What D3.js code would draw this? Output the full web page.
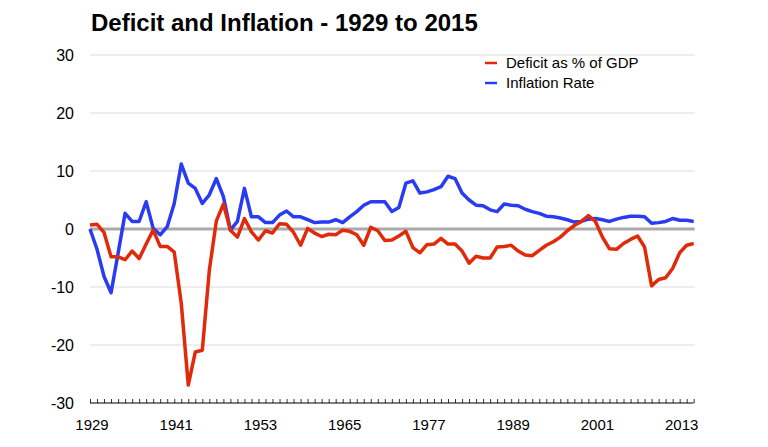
<!DOCTYPE html>
<html>
<head>
<meta charset="utf-8">
<script src="https://cdn.jsdelivr.net/npm/d3@7"></script>
<style>
  html, body { margin: 0; padding: 0; background: #fff; }
  svg { display: block; font-family: "Liberation Sans", Arial, Helvetica, sans-serif; }
</style>
</head>
<body>
<svg id="chart" width="768" height="447"></svg>
<script>
// ---- data ----
const years = d3.range(1929, 2016);
const deficit = [
  0.7, 0.8, -0.6, -4.8, -4.8, -5.3, -3.8, -5.1, -2.6, -0.2,
  -3.0, -3.0, -4.0, -12.8, -26.9, -21.2, -20.9, -7.1, 1.4, 4.3,
  -0.2, -1.4, 1.8, -0.5, -1.9, -0.3, -0.7, 0.9, 0.8, -0.6,
  -2.8, 0.1, -0.7, -1.3, -0.9, -1.0, -0.2, -0.4, -1.0, -2.8,
  0.3, -0.3, -2.0, -1.9, -1.2, -0.4, -3.2, -4.1, -2.7, -2.6,
  -1.6, -2.6, -2.6, -3.8, -5.9, -4.7, -5.0, -5.0, -3.1, -3.0,
  -2.8, -3.8, -4.5, -4.6, -3.7, -2.8, -2.2, -1.4, -0.3, 0.6,
  1.3, 2.3, 1.3, -1.4, -3.4, -3.5, -2.5, -1.8, -1.2, -3.1,
  -9.8, -8.7, -8.4, -6.8, -4.1, -2.8, -2.5
];
const inflation = [
  0.0, -3.5, -8.2, -11.0, -4.2, 2.7, 1.3, 1.3, 4.7, 0.1,
  -1.0, 0.4, 4.4, 11.2, 7.9, 7.0, 4.4, 5.9, 8.7, 5.6,
  -0.2, 1.3, 7.0, 2.1, 2.1, 1.1, 1.1, 2.4, 3.1, 2.1,
  2.1, 1.6, 1.1, 1.2, 1.2, 1.6, 1.1, 2.1, 3.0, 4.1,
  4.7, 4.7, 4.7, 3.0, 3.7, 7.9, 8.3, 6.2, 6.4, 6.8,
  7.3, 9.1, 8.7, 6.2, 5.0, 4.1, 4.0, 3.3, 3.0, 4.3,
  4.1, 4.0, 3.4, 3.0, 2.7, 2.2, 2.1, 1.9, 1.6, 1.2,
  1.3, 1.7, 1.8, 1.6, 1.3, 1.7, 2.0, 2.2, 2.2, 2.1,
  1.0, 1.1, 1.3, 1.8, 1.5, 1.5, 1.3
];
const yTicks = [-30, -20, -10, 0, 10, 20, 30];
const xTickLabels = [1929, 1941, 1953, 1965, 1977, 1989, 2001, 2013];
const seriesNames = ["Deficit as % of GDP", "Inflation Rate"];
const seriesColors = ["#e02a0a", "#2a3cf2"];
const titleText = "Deficit and Inflation - 1929 to 2015";

// ---- layout ----
const svg = d3.select("#chart");
const x = d3.scaleLinear().domain([1929, 2015]).range([90, 693.7]);
const y = d3.scaleLinear().domain([-30, 30]).range([403, 55]);

// title
svg.append("text")
  .attr("x", 91).attr("y", 31)
  .attr("font-size", 24).attr("font-weight", "bold")
  .attr("fill", "#000")
  .text(titleText);

// gridlines
svg.append("g").selectAll("line")
  .data(yTicks.filter(t => t !== 0 && t !== -30))
  .join("line")
  .attr("x1", 90).attr("x2", x(2015) + 1)
  .attr("y1", d => y(d)).attr("y2", d => y(d))
  .attr("stroke", "#dcdcdc").attr("stroke-width", 1);

// y labels
svg.append("g").selectAll("text")
  .data(yTicks)
  .join("text")
  .attr("x", 74).attr("y", d => y(d) + 6)
  .attr("text-anchor", "end")
  .attr("font-size", 16).attr("fill", "#000")
  .text(d => d);

// zero line
svg.append("line")
  .attr("x1", 90).attr("x2", x(2015) + 1)
  .attr("y1", y(0)).attr("y2", y(0))
  .attr("stroke", "#aaaaaa").attr("stroke-width", 3);

// x axis
const xAxis = d3.axisBottom(x)
  .tickValues(years)
  .tickSize(-4)
  .tickFormat("");
const gx = svg.append("g").attr("transform", `translate(0,${y(-30)})`).call(xAxis);
gx.select(".domain").attr("stroke", "#000").attr("stroke-width", 1.2).attr("d", `M${x(1929)},0H${x(2015)}`);
gx.selectAll(".tick line").attr("stroke", "#000").attr("stroke-width", 0.8);

svg.append("g").selectAll("text")
  .data(xTickLabels)
  .join("text")
  .attr("x", d => x(d) + 2).attr("y", 430)
  .attr("text-anchor", "middle")
  .attr("font-size", 15).attr("fill", "#000")
  .text(d => d);

// lines
const line = d3.line()
  .x((d, i) => x(years[i]))
  .y(d => y(d));

svg.append("path")
  .datum(inflation)
  .attr("d", line)
  .attr("fill", "none")
  .attr("stroke", seriesColors[1]).attr("stroke-width", 3.5)
  .attr("stroke-linejoin", "round");

svg.append("path")
  .datum(deficit)
  .attr("d", line)
  .attr("fill", "none")
  .attr("stroke", seriesColors[0]).attr("stroke-width", 3.5)
  .attr("stroke-linejoin", "round");

// legend
const lg = svg.append("g");
seriesNames.forEach((name, i) => {
  const yy = 63 + i * 20;
  lg.append("line")
    .attr("x1", 485).attr("x2", 497)
    .attr("y1", yy).attr("y2", yy)
    .attr("stroke", seriesColors[i]).attr("stroke-width", 2.5);
  lg.append("text")
    .attr("x", 506).attr("y", yy + 5)
    .attr("font-size", 15).attr("fill", "#000")
    .text(name);
});
</script>
</body>
</html>
